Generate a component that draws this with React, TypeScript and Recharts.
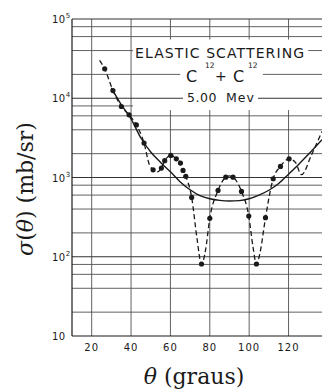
import React from "react";
import {
  ComposedChart,
  Line,
  Scatter,
  XAxis,
  YAxis,
  ReferenceLine,
  Customized,
  Label,
} from "recharts";

// measured points (dots)
const measAngles = [
  26.6, 30.8, 35.1, 39.0, 42.7, 46.6, 51.2, 55.4, 57.1, 60.2, 63.0, 65.1, 66.4, 67.8, 70.8, 75.8, 80.0,
  84.2, 88.1, 91.8, 96.1, 99.8, 103.7, 108.3, 112.2, 115.9, 120.3,
];
const measSigma = [
  23500, 12500, 7870, 6170, 4610, 2720, 1250, 1315, 1630, 1900, 1720, 1520, 1230, 1035, 560, 81, 305,
  687, 1010, 1010, 667, 326, 81, 311, 965, 1380, 1720,
];

// dashed guide curve through the data
const guideAngles = [
  24, 26.6, 30.8, 35.1, 39, 42.7, 46.6, 49.3, 51.2, 53.2, 55.4, 57.1, 60.2, 63, 65.1, 66.4, 67.8, 70.8,
  73.5, 75.8, 77.8, 80, 84.2, 88.1, 90, 91.8, 96.1, 99.8, 102, 103.7, 105.6, 108.3, 112.2, 115.9, 120.3,
  123.5, 126.6, 131.7, 137,
];
const guideSigma = [
  30000, 23500, 12500, 7870, 6170, 4610, 2720, 1450, 1250, 1180, 1315, 1630, 1900, 1720, 1520, 1230,
  1035, 560, 170, 80, 120, 305, 687, 1010, 1050, 1010, 667, 326, 130, 80, 115, 311, 965, 1380, 1720,
  1550, 1085, 1940, 3800,
];

// solid curve (smooth fit)
const fitAngles = [30, 35, 40, 45, 50, 55, 60, 65, 70, 75, 80, 85, 90, 95, 100, 105, 110, 115, 120, 125, 130, 137];
const fitSigma = [
  13500, 8300, 5500, 3150, 2100, 1550, 1180, 880, 700, 590, 540, 515, 505, 510, 540, 600, 690, 840, 1100,
  1450, 1950, 3000,
];

const xTicks = [20, 40, 60, 80, 100, 120];
const yTicks = [10, 100, 1000, 10000, 100000];
const hGrid = [20, 40, 60, 80, 100, 200, 400, 600, 800, 1000, 2000, 4000, 6000, 60000, 80000, 100000];
// gridlines that are interrupted by the title lettering: [value, gapFrom, gapTo] in degrees
const hGridGaps: [number, number, number][] = [
  [40000, 41, 130],
  [20000, 65, 107],
  [10000, 66.4, 104.5],
  [8000, 41, 137],
];
const vGridFull = [20, 40];
const vGridSplit = [60, 80, 100, 120];

const zip = (a: number[], b: number[]) => a.map((theta, i) => ({ theta, sigma: b[i] }));
const meas = zip(measAngles, measSigma);
const guide = zip(guideAngles, guideSigma);
const fit = zip(fitAngles, fitSigma);

const ink = "#1a1a1a";
const gridColor = "#505050";
const sans = "'DejaVu Sans', sans-serif";
const serif = "'DejaVu Serif', serif";

function YTick({ x, y, payload }: any) {
  const exp = Math.round(Math.log10(payload.value));
  return (
    <text x={x - 20} y={y + 4} fontFamily={sans} fontSize={10} fill={ink} letterSpacing={0.5}>
      10
      {exp > 1 && (
        <tspan dy={-5} fontSize={7}>
          {exp}
        </tspan>
      )}
    </text>
  );
}

function XTick({ x, y, payload }: any) {
  return (
    <text x={x} y={y + 15} textAnchor="middle" fontFamily={sans} fontSize={10} fill={ink} letterSpacing={1}>
      {payload.value}
    </text>
  );
}

function TitleBox() {
  return (
    <g fill={ink} fontFamily={sans}>
      <text x={135} y={57.5} fontSize={14} letterSpacing={1.1}>
        ELASTIC SCATTERING
      </text>
      <text x={186} y={82} fontSize={16}>C</text>
      <text x={205} y={68} fontSize={7.5}>12</text>
      <text x={215} y={81} fontSize={14}>+</text>
      <text x={233} y={82} fontSize={16}>C</text>
      <text x={248} y={68} fontSize={7.5}>12</text>
      <text x={187} y={102} fontSize={12.5} letterSpacing={0.5}>5.00</text>
      <text x={226} y={102} fontSize={12.5} letterSpacing={1}>Mev</text>
    </g>
  );
}

function XLabel({ viewBox }: any) {
  const cx = viewBox.x + viewBox.width / 2 - 3;
  return (
    <text x={cx} y={384} textAnchor="middle" fontFamily={serif} fontSize={22} fill={ink}>
      <tspan fontStyle="italic">θ</tspan> (graus)
    </text>
  );
}

function YLabel() {
  return (
    <text
      x={33}
      y={189}
      transform="rotate(-90, 33, 189)"
      textAnchor="middle"
      fontFamily={serif}
      fontSize={22}
      fill={ink}
    >
      <tspan fontStyle="italic">σ</tspan>(<tspan fontStyle="italic">θ</tspan>) (mb/sr)
    </text>
  );
}

const isDecade = (v: number) => [100, 1000, 10000, 100000].includes(v);

export default function App() {
  return (
    <div style={{ position: "absolute", left: 0, top: 0, width: 322, height: 389, background: "#fff" }}>
      <ComposedChart width={322} height={389} margin={{ top: 19, right: 0, bottom: 0, left: 0 }}>
        <XAxis
          type="number"
          dataKey="theta"
          domain={[10, 137]}
          ticks={xTicks}
          allowDataOverflow
          height={53}
          tickLine={false}
          tickSize={0}
          tickMargin={0}
          axisLine={{ stroke: ink, strokeWidth: 1.2 }}
          tick={<XTick />}
        >
          <Label content={<XLabel />} />
        </XAxis>
        <YAxis
          type="number"
          dataKey="sigma"
          scale="log"
          domain={[10, 100000]}
          ticks={yTicks}
          allowDataOverflow
          width={72}
          tickLine={false}
          tickSize={0}
          tickMargin={0}
          axisLine={{ stroke: ink, strokeWidth: 1.2 }}
          tick={<YTick />}
        />
        {vGridFull.map((v) => (
          <ReferenceLine key={`vf${v}`} x={v} stroke={gridColor} strokeWidth={0.9} />
        ))}
        {vGridSplit.map((v) => (
          <ReferenceLine
            key={`vb${v}`}
            segment={[
              { x: v, y: 10 },
              { x: v, y: 7100 },
            ]}
            stroke={gridColor}
            strokeWidth={0.9}
          />
        ))}
        {vGridSplit.map((v) => (
          <ReferenceLine
            key={`vt${v}`}
            segment={[
              { x: v, y: 55000 },
              { x: v, y: 100000 },
            ]}
            stroke={gridColor}
            strokeWidth={0.9}
          />
        ))}
        {hGrid.map((v) => (
          <ReferenceLine
            key={`h${v}`}
            y={v}
            stroke={isDecade(v) ? "#333" : gridColor}
            strokeWidth={isDecade(v) ? 1.1 : 0.9}
          />
        ))}
        {hGridGaps.map(([v, a, b]) => (
          <ReferenceLine
            key={`hl${v}`}
            segment={[
              { x: 10, y: v },
              { x: a, y: v },
            ]}
            stroke={isDecade(v) ? "#333" : gridColor}
            strokeWidth={isDecade(v) ? 1.1 : 0.9}
          />
        ))}
        {hGridGaps
          .filter(([, , b]) => b < 137)
          .map(([v, , b]) => (
            <ReferenceLine
              key={`hr${v}`}
              segment={[
                { x: b, y: v },
                { x: 137, y: v },
              ]}
              stroke={isDecade(v) ? "#333" : gridColor}
              strokeWidth={isDecade(v) ? 1.1 : 0.9}
            />
          ))}
        <Line
          data={fit}
          dataKey="sigma"
          type="monotone"
          stroke={ink}
          strokeWidth={1.4}
          dot={false}
          isAnimationActive={false}
        />
        <Line
          data={guide}
          dataKey="sigma"
          type="monotone"
          stroke={ink}
          strokeWidth={1.3}
          strokeDasharray="5 3"
          dot={false}
          isAnimationActive={false}
        />
        <Scatter
          data={meas}
          dataKey="sigma"
          isAnimationActive={false}
          shape={(p: any) => <circle cx={p.cx} cy={p.cy} r={2.6} fill={ink} />}
        />
        <Customized component={<TitleBox />} />
        <Customized component={<YLabel />} />
      </ComposedChart>
    </div>
  );
}
